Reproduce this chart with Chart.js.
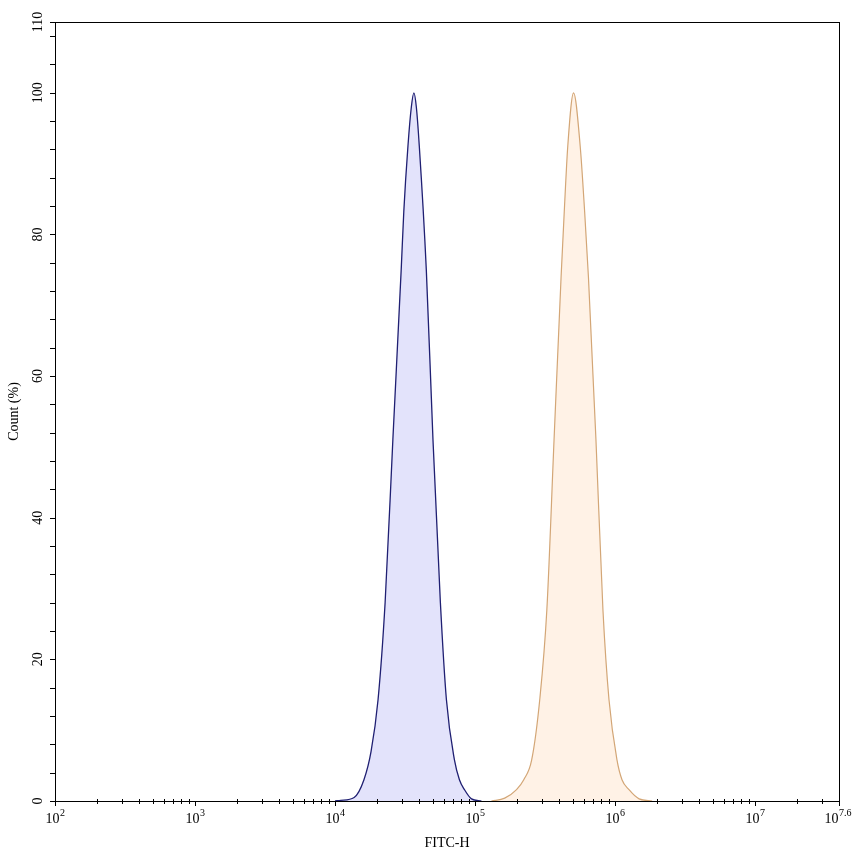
<!DOCTYPE html>
<html>
<head>
<meta charset="utf-8">
<script src="https://cdn.jsdelivr.net/npm/chart.js@4.4.0/dist/chart.umd.min.js"></script>
<style>
  html, body { margin: 0; padding: 0; background: #fff; }
  #wrap { width: 853px; height: 856px; }
</style>
</head>
<body>
<div id="wrap"><canvas id="histo"></canvas></div>
<script>
// FITC-H intensity (x) and count in % (y)
const blueFitc = [10000, 11000, 13700, 16100, 18100, 20300, 22800, 25900, 29700, 31000, 33200, 35100,
  36600, 38100, 40000, 44900, 50100, 56600, 62500, 71300, 77400, 84100, 94400, 111000];
const blueCount = [0, 0.1, 0.5, 3.0, 7.0, 14.3, 28, 51, 75, 83.2, 92.5, 98,
  100, 98, 92.5, 75, 51, 28, 14.3, 5.8, 3.0, 1.6, 0.3, 0];

const orangeFitc = [131000, 163000, 198000, 223000, 254000, 290000, 326000, 367000, 412000, 434000, 460000,
  506000, 564000, 607000, 646000, 731000, 820000, 906000, 1033000, 1122000, 1259000, 1486000, 1841000];
const orangeCount = [0, 0.4, 1.6, 3.0, 5.8, 14.3, 27, 51, 74, 83.2, 92.5,
  100, 92.5, 83.2, 74, 51, 27, 14.3, 5.8, 3.0, 1.6, 0.3, 0];

const xMajorExp = [2, 3, 4, 5, 6, 7, 7.6];
const yLabels = [0, 20, 40, 60, 80, 100, 110];
const yMinorStep = 4;
const xMin = 100;
const xMax = Math.pow(10, 7.6);

const FONT = '"Liberation Serif", "Times New Roman", serif';

// frame, tick marks, tick labels and axis titles
const axisDecor = {
  id: "axisDecor",
  afterDraw(chart) {
    const ctx = chart.ctx;
    const area = chart.chartArea;
    const xs = chart.scales.x;
    const ys = chart.scales.y;
    ctx.save();
    ctx.strokeStyle = "#000";
    ctx.lineWidth = 1;
    ctx.strokeRect(area.left + 0.5, area.top + 0.5, area.right - area.left, area.bottom - area.top);

    // y ticks
    ctx.beginPath();
    const yTicks = [];
    for (let v = 0; v <= 110; v += yMinorStep) yTicks.push(v);
    yTicks.push(110);
    yTicks.forEach((v) => {
      const py = Math.round(ys.getPixelForValue(v)) + 0.5;
      ctx.moveTo(area.left - 5, py);
      ctx.lineTo(area.left, py);
    });
    // x ticks
    xMajorExp.forEach((e) => {
      const px = Math.round(xs.getPixelForValue(Math.pow(10, e))) + 0.5;
      ctx.moveTo(px, area.bottom);
      ctx.lineTo(px, area.bottom + 5);
    });
    for (let n = 2; n <= 7; n++) {
      for (let k = 2; k <= 9; k++) {
        const v = k * Math.pow(10, n);
        if (v > xMax) continue;
        const px = Math.round(xs.getPixelForValue(v)) + 0.5;
        ctx.moveTo(px, area.bottom - 2);
        ctx.lineTo(px, area.bottom + 3);
      }
    }
    ctx.stroke();

    ctx.fillStyle = "#000";
    // y labels, rotated
    ctx.font = "14px " + FONT;
    ctx.textAlign = "center";
    ctx.textBaseline = "middle";
    yLabels.forEach((v) => {
      const py = ys.getPixelForValue(v);
      ctx.save();
      ctx.translate(38, py);
      ctx.rotate(-Math.PI / 2);
      ctx.fillText(String(v), 0, 0);
      ctx.restore();
    });

    // x labels: 10 with superscript exponent
    ctx.textAlign = "left";
    ctx.textBaseline = "alphabetic";
    xMajorExp.forEach((e) => {
      const px = xs.getPixelForValue(Math.pow(10, e));
      ctx.font = "14px " + FONT;
      const wBase = ctx.measureText("10").width;
      ctx.font = "10px " + FONT;
      const sup = String(e);
      const wSup = ctx.measureText(sup).width;
      let x0 = px - (wBase + wSup) / 2;
      if (x0 + wBase + wSup > chart.width - 2) x0 = chart.width - 2 - wBase - wSup;
      ctx.font = "14px " + FONT;
      ctx.fillText("10", x0, 823);
      ctx.font = "10px " + FONT;
      ctx.fillText(sup, x0 + wBase + 0.5, 816);
    });

    // axis titles
    ctx.font = "14px " + FONT;
    ctx.textAlign = "center";
    ctx.textBaseline = "middle";
    ctx.fillText("FITC-H", (area.left + area.right) / 2, 843);
    ctx.save();
    ctx.translate(14, (area.top + area.bottom) / 2);
    ctx.rotate(-Math.PI / 2);
    ctx.fillText("Count (%)", 0, 0);
    ctx.restore();
    ctx.restore();
  },
};

const ctx = document.getElementById("histo").getContext("2d");
const histoChart = new Chart(ctx, {
  type: "line",
  data: {
    datasets: [
      {
        label: "Control",
        data: blueFitc.map((x, i) => ({ x: x, y: blueCount[i] })),
        borderColor: "#1f1f72",
        backgroundColor: "rgba(222, 222, 250, 0.85)",
        borderWidth: 1.3,
        fill: "origin",
        pointRadius: 0,
        cubicInterpolationMode: "monotone",
      },
      {
        label: "Sample",
        data: orangeFitc.map((x, i) => ({ x: x, y: orangeCount[i] })),
        borderColor: "#d3a676",
        backgroundColor: "rgba(255, 240, 226, 0.85)",
        borderWidth: 1.2,
        fill: "origin",
        pointRadius: 0,
        cubicInterpolationMode: "monotone",
      },
    ],
  },
  options: {
    responsive: true,
    maintainAspectRatio: false,
    animation: false,
    layout: { padding: { top: 22, right: 14, left: 0, bottom: 0 } },
    plugins: {
      legend: { display: false },
      tooltip: { enabled: false },
    },
    scales: {
      x: {
        type: "logarithmic",
        min: xMin,
        max: xMax,
        grid: { display: false },
        border: { display: false },
        ticks: { display: false },
        afterFit: (scale) => { scale.height = 55; },
      },
      y: {
        type: "linear",
        min: 0,
        max: 110,
        grid: { display: false },
        border: { display: false },
        ticks: { display: false },
        afterFit: (scale) => { scale.width = 55; },
      },
    },
  },
  plugins: [axisDecor],
});
</script>
</body>
</html>
